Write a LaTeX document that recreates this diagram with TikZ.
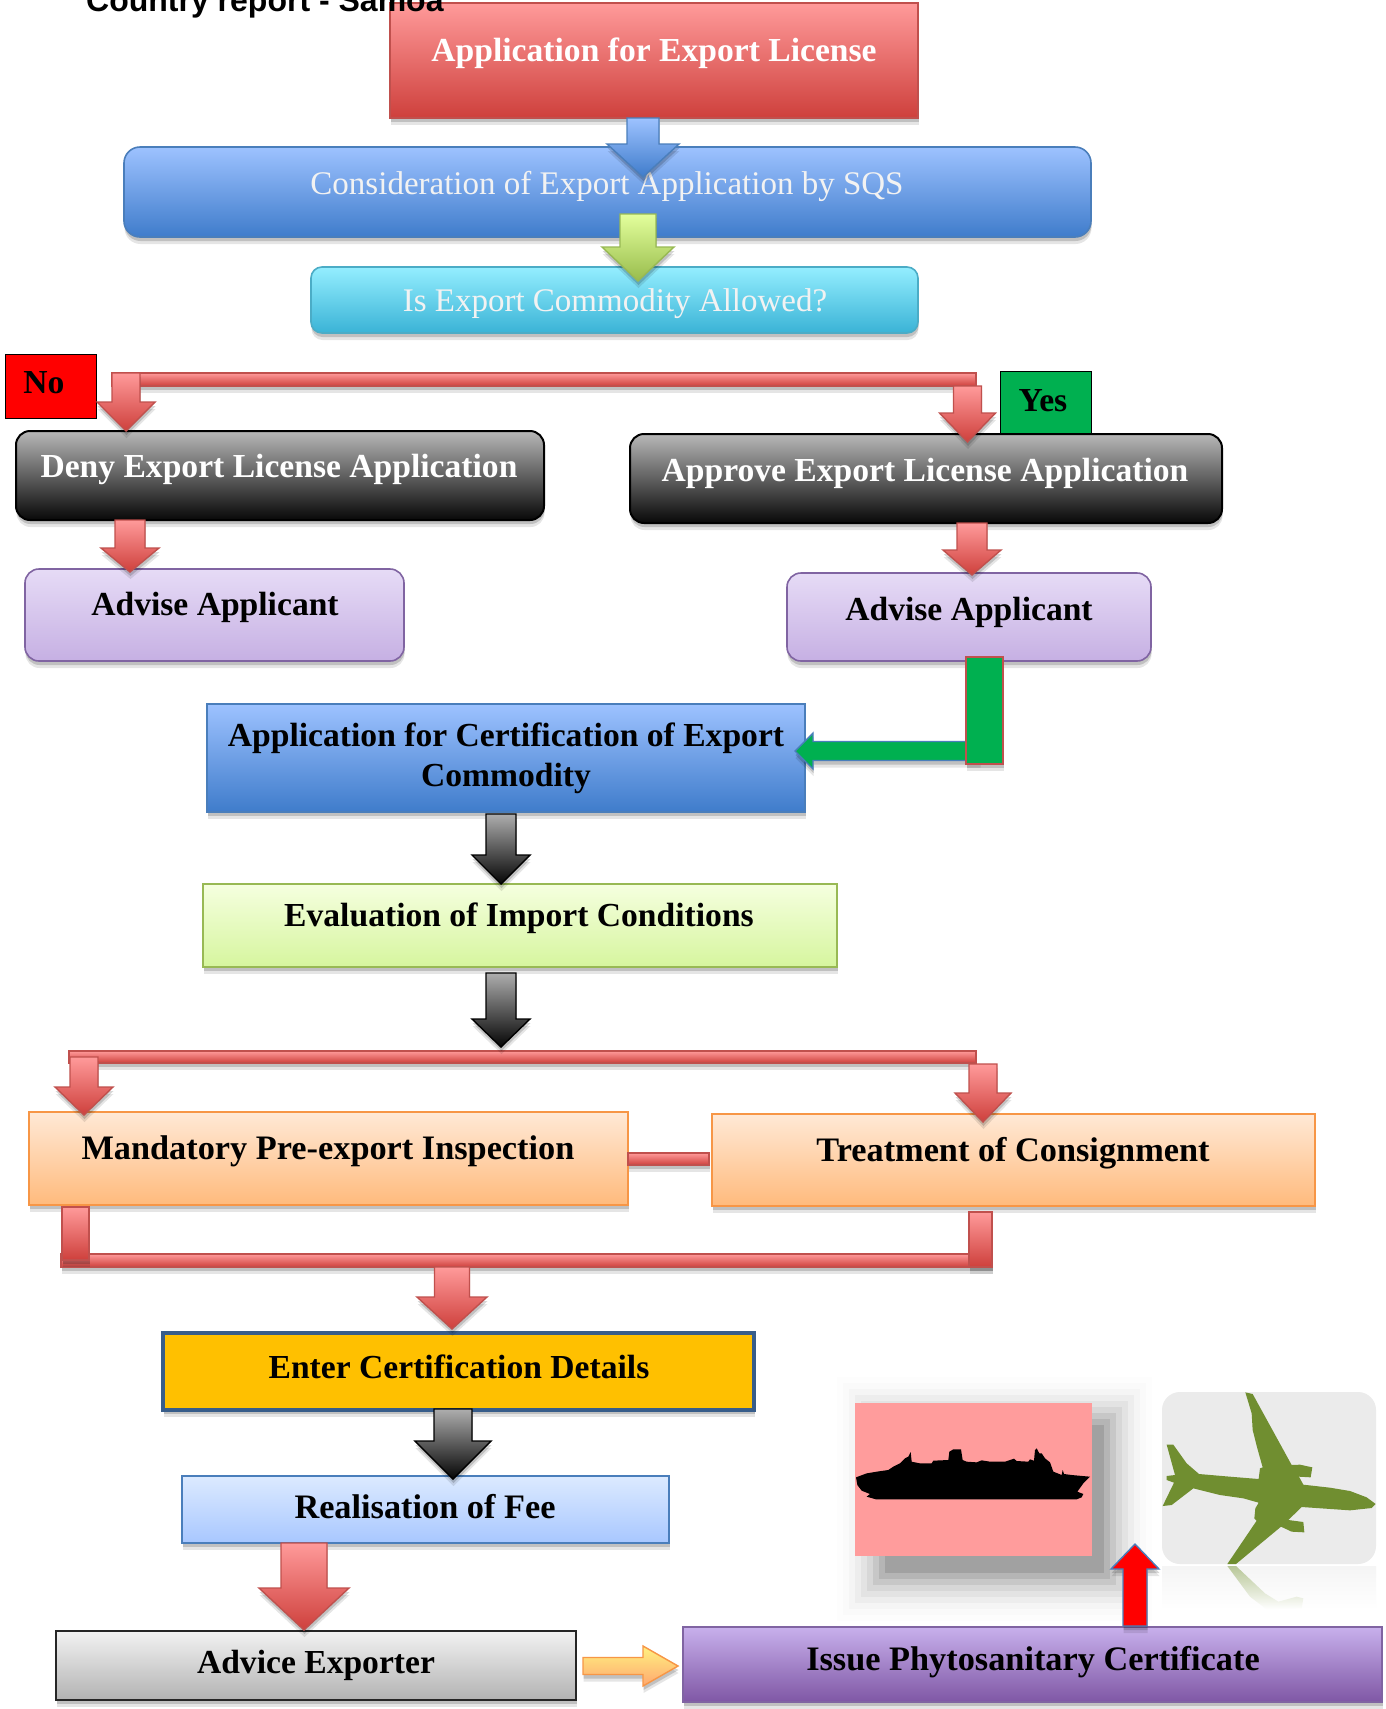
\documentclass[tikz,border=0pt]{standalone}
\usepackage{fontspec}
\setmainfont{Liberation Serif}
\setsansfont{Liberation Sans}
\usetikzlibrary{calc,shadows}
\newcommand\mkbox[6]{%
  \pgfmathsetmacro\bcx{(#3+#5)/2}\pgfmathsetmacro\bcy{(#4+#6)/2}%
  \pgfmathsetmacro\bw{#5-#3}\pgfmathsetmacro\bh{#6-#4}%
  \node[#2,minimum width=\bw pt,minimum height=\bh pt] (#1) at (\bcx,\bcy) {};}
\newcommand\arrdn[9]{%
  \path[#9] let \p1=(#2),\p2=(#4) in
   (#1pt-#6pt,\y1-#3pt)--(#1pt+#6pt,\y1-#3pt)--(#1pt+#6pt,\y2-#5pt+#8pt)--(#1pt+#7pt,\y2-#5pt+#8pt)
   --(#1pt,\y2-#5pt)--(#1pt-#7pt,\y2-#5pt+#8pt)--(#1pt-#6pt,\y2-#5pt+#8pt)--cycle;}
\newcommand\arrlf[9]{%
  \path[#9] let \p1=(#2),\p2=(#4) in
   (\x1+#3pt,-#1pt+#6pt)--(\x1+#3pt,-#1pt-#6pt)--(\x2+#5pt+#8pt,-#1pt-#6pt)--(\x2+#5pt+#8pt,-#1pt-#7pt)
   --(\x2+#5pt,-#1pt)--(\x2+#5pt+#8pt,-#1pt+#7pt)--(\x2+#5pt+#8pt,-#1pt+#6pt)--cycle;}
\newcommand\arrrt[9]{%
  \path[#9] let \p1=(#2),\p2=(#4) in
   (\x1+#3pt,-#1pt+#6pt)--(\x1+#3pt,-#1pt-#6pt)--(\x2+#5pt-#8pt,-#1pt-#6pt)--(\x2+#5pt-#8pt,-#1pt-#7pt)
   --(\x2+#5pt,-#1pt)--(\x2+#5pt-#8pt,-#1pt+#7pt)--(\x2+#5pt-#8pt,-#1pt+#6pt)--cycle;}
\newcommand\arrup[9]{%
  \path[#9] let \p1=(#2),\p2=(#4) in
   (#1pt-#6pt,\y1-#3pt)--(#1pt+#6pt,\y1-#3pt)--(#1pt+#6pt,\y2-#5pt-#8pt)--(#1pt+#7pt,\y2-#5pt-#8pt)
   --(#1pt,\y2-#5pt)--(#1pt-#7pt,\y2-#5pt-#8pt)--(#1pt-#6pt,\y2-#5pt-#8pt)--cycle;}
\definecolor{redT}{HTML}{FF9A9A}\definecolor{redB}{HTML}{CE403C}\definecolor{redL}{HTML}{C0504D}
\definecolor{bluT}{HTML}{9DC2FF}\definecolor{bluB}{HTML}{3F7CCB}\definecolor{bluL}{HTML}{4A7EBB}
\definecolor{cyaT}{HTML}{94EEFF}\definecolor{cyaB}{HTML}{3AB3D6}\definecolor{cyaL}{HTML}{4BACC6}
\definecolor{grnT}{HTML}{E3FF9C}\definecolor{grnB}{HTML}{98BC4C}\definecolor{grnL}{HTML}{98B954}
\definecolor{lavT}{HTML}{E6DBF6}\definecolor{lavB}{HTML}{C6B0E3}\definecolor{lavL}{HTML}{8064A2}
\definecolor{orgT}{HTML}{FFE9D6}\definecolor{orgB}{HTML}{FFBA7C}\definecolor{orgL}{HTML}{F79646}
\definecolor{evlT}{HTML}{F5FFDF}\definecolor{evlB}{HTML}{D6F59E}
\definecolor{relT}{HTML}{DCEAFF}\definecolor{relB}{HTML}{A8C7FF}
\definecolor{purT}{HTML}{C8B0EC}\definecolor{purB}{HTML}{7F57A5}
\definecolor{plane}{HTML}{708E30}
\tikzset{
  softshadow/.style={drop shadow={shadow xshift=.5pt,shadow yshift=-7pt,opacity=.1,fill=black},
                     drop shadow={shadow xshift=.5pt,shadow yshift=-4pt,opacity=.16,fill=black}},
  boxbase/.style={rectangle,inner sep=0pt,outer sep=0pt,line width=1.6pt,softshadow},
  shaded2/.style n args={3}{draw=#3,top color=#1,bottom color=#2},
  redbox/.style={boxbase,shaded2={redT}{redB}{redL}},
  blubox/.style={boxbase,shaded2={bluT}{bluB}{bluL}},
  cyabox/.style={boxbase,shaded2={cyaT}{cyaB}{cyaL},rounded corners=11pt},
  blkbox/.style={boxbase,shaded2={black!28}{black!97}{black},rounded corners=14pt,line width=2pt},
  lavbox/.style={boxbase,shaded2={lavT}{lavB}{lavL},rounded corners=14pt},
  orgbox/.style={boxbase,shaded2={orgT}{orgB}{orgL}},
  evlbox/.style={boxbase,shaded2={evlT}{evlB}{grnL}},
  relbox/.style={boxbase,shaded2={relT}{relB}{bluL}},
  gryb/.style={boxbase,shaded2={black!5}{black!30}{black!85},line width=2pt},
  purbox/.style={boxbase,shaded2={purT}{purB}{lavL}},
  redarr/.style={line width=1.4pt,shaded2={redT}{redB}{redL},softshadow},
  bluarr/.style={line width=1.4pt,shaded2={bluT}{bluB}{bluL},softshadow},
  grnarr/.style={line width=1.4pt,shaded2={grnT}{grnB}{grnL},softshadow},
  gryarr/.style={line width=1.4pt,shaded2={black!32}{black!98}{black},softshadow},
  txt/.style={inner sep=0pt,align=center,font=\fontsize{33.6}{40}\selectfont\bfseries},
  txtb/.style={inner sep=0pt,align=center,font=\fontsize{34.3}{40}\selectfont\bfseries},
  wtxt/.style={txt,text=white},
  ltxt/.style={inner sep=0pt,align=center,text=white!95!black,font=\fontsize{33}{40}\selectfont},
}
\begin{document}
\begin{tikzpicture}[x=1pt,y=-1pt,line join=miter]
\useasboundingbox (0,0) rectangle (1385,1709);
\fill[white] (0,0) rectangle (1385,1709);

% boxes
\mkbox{app}{redbox}{390}{3}{918}{118}
\mkbox{cons}{blubox,rounded corners=16pt}{124}{147}{1091}{237}
\mkbox{allow}{cyabox}{311}{267}{918}{333}
\mkbox{nobox}{rectangle,inner sep=0pt,outer sep=0pt,draw=black,line width=1pt,fill=red}{5}{354}{96}{418}
\mkbox{yesbox}{rectangle,inner sep=0pt,outer sep=0pt,draw=black,line width=1pt,fill={rgb,255:red,0;green,176;blue,80}}{1000}{371}{1091}{433}
\mkbox{deny}{blkbox}{16}{431}{544}{520}
\mkbox{approve}{blkbox}{630}{434}{1222}{523}
\mkbox{advL}{lavbox}{25}{569}{404}{661}
\mkbox{advR}{lavbox}{787}{573}{1151}{661}
\mkbox{appc}{blubox}{207}{704}{805}{812}
\mkbox{eval}{evlbox}{203}{884}{837}{967}
\mkbox{mand}{orgbox}{29}{1112}{628}{1205}
\mkbox{treat}{orgbox}{712}{1114}{1315}{1206}
\mkbox{enter}{boxbase,fill={rgb,255:red,255;green,192;blue,0},draw={rgb,255:red,56;green,93;blue,138},line width=4pt}{163}{1333}{754}{1410}
\mkbox{real}{relbox}{182}{1476}{669}{1543}
\mkbox{adv}{gryb}{56}{1631}{576}{1700}
\mkbox{issue}{purbox}{683}{1627}{1382}{1702}

\node[inner sep=0pt,anchor=base west,font=\sffamily\bfseries\fontsize{32}{34}\selectfont] (title) at (86,11) {Country report - Samoa};

% ship with its blurred shadow
\foreach \d/\o in {48/.008,42/.012,36/.018,30/.03,24/.04,18/.05,12/.07,6/.09,0/.11}{
  \fill[black,opacity=\o] (885-\d,1425-\d) rectangle (1104+\d,1573+\d);
}
\mkbox{ship}{rectangle,inner sep=0pt,outer sep=0pt,fill={rgb,255:red,255;green,156;blue,156}}{855}{1403}{1092}{1556}
\begin{scope}[shift={(850,1430)},scale=.33333]
\fill[black] (18,142)--(50,130)--(80,125)--(115,120)--(130,110)--(150,100)--(165,85)--(175,80)--(182,66)--(185,95)--(210,100)--(245,100)--(250,92)--(295,90)--(298,65)--(310,58)--(333,58)--(338,90)--(350,95)--(380,97)--(395,91)--(420,95)--(465,95)--(492,86)--(500,93)--(535,95)--(540,88)--(552,92)--(555,60)--(560,55)--(568,70)--(575,70)--(585,85)--(600,97)--(610,125)--(635,135)--(638,120)--(642,132)--(665,135)--(720,140)--(700,160)--(682,185)--(700,192)--(695,202)--(680,208)--(78,208)--(50,200)--(60,192)--(35,182)--(22,165)--cycle;
\end{scope}

% aircraft picture and its reflection
\shade[top color=black!4,bottom color=white] (1162,1566) rectangle (1376,1610);
\mkbox{planebg}{rectangle,inner sep=0pt,outer sep=0pt,rounded corners=18pt,fill=black!8}{1162}{1392}{1376}{1564}
\begin{scope}[shift={(1150,1380)},scale=.33333]
\fill[plane] (286,37)--(308,42)--(425,255)--(450,254)--(487,262)--(482,292)--(447,290)--(460,314)--(540,323)--(600,333)--(650,352)--(677,372)--(665,384)--(600,391)--(455,381)--(415,420)--(460,426)--(463,457)--(425,455)--(393,440)--(258,552)--(232,552)--(320,422)--(313,415)--(316,385)--(326,368)--(280,355)--(210,345)--(130,325)--(65,375)--(38,378)--(72,308)--(50,300)--(50,288)--(75,285)--(50,194)--(70,194)--(110,250)--(147,282)--(240,290)--(326,297)--(330,265)--(338,262)--(322,205)--(308,150)--(305,100)--cycle;
\shade[top color=plane!50,bottom color=white] (232,558)--(258,558)--(345,640)--(385,665)--(440,650)--(460,655)--(455,685)--(350,688)--(300,650)--cycle;
\end{scope}

% bars
\mkbox{bar1}{redbox,line width=1.2pt}{112}{373}{976}{386}
\mkbox{bar2}{redbox,line width=1.2pt}{69}{1051}{976}{1063}
\mkbox{conn}{redbox,line width=1.2pt}{628}{1153}{709}{1165}
\mkbox{bar3}{redbox,line width=1.2pt}{61}{1254}{992}{1267}
\mkbox{stubL}{redbox,line width=1.2pt}{62}{1207}{89}{1260}
\mkbox{stubR}{redbox,line width=1.2pt}{969}{1212}{992}{1267}

% texts
\node[wtxt] (appT) at (654,53) {Application for Export License};
\node[ltxt] (consT) at (607,186) {Consideration of Export Application by SQS};
\node[ltxt] (allowT) at (615,304) {Is Export Commodity Allowed?};
\node[txt] (noT) at (44,383) {No};
\node[txt] (yesT) at (1043,401) {Yes};
\node[wtxt] (denyT) at (279,469) {Deny Export License Application};
\node[wtxt] (approveT) at (925,473) {Approve Export License Application};
\node[txt] (advLT) at (215,607) {Advise Applicant};
\node[txt] (advRT) at (969,612) {Advise Applicant};
\node[txt] (appcT) at (506,758) {Application for Certification of Export\\Commodity};
\node[txt] (evalT) at (519,918) {Evaluation of Import Conditions};
\node[txtb] (mandT) at (328,1151) {Mandatory Pre-export Inspection};
\node[txtb] (treatT) at (1013,1153) {Treatment of Consignment};
\node[txt] (enterT) at (459,1367) {Enter Certification Details};
\node[txtb] (realT) at (425,1507) {Realisation of Fee};
\node[txt] (advT) at (316,1665) {Advice Exporter};
\node[txtb] (issueT) at (1033,1662) {Issue Phytosanitary Certificate};

% block arrows
\arrdn{643}{app.south}{0}{cons.north}{30}{16}{36}{33}{bluarr}
\arrdn{638}{cons.south}{-23}{allow.north}{14}{18}{36}{34}{grnarr}
\arrdn{126}{bar1.north}{0}{deny.north}{0}{14}{29}{29}{redarr}
\arrdn{967.5}{bar1.south}{0}{approve.north}{8}{14}{28}{29}{redarr}
\arrdn{130}{deny.south}{0}{advL.north}{3}{15}{29}{24}{redarr}
\arrdn{972}{approve.south}{0}{advR.north}{2}{15}{29}{25}{redarr}
\arrdn{501}{appc.south}{2}{eval.north}{0}{15}{29}{29}{gryarr}
\arrdn{501}{eval.south}{6}{bar2.north}{-4}{15}{29}{28}{gryarr}
\arrdn{84}{bar2.north}{6}{mand.north}{3}{14}{29}{28}{redarr}
\arrdn{983}{bar2.south}{1}{treat.north}{8}{14}{28}{29}{redarr}
\arrdn{452}{bar3.south}{0}{enter.north}{-4}{17.5}{35}{32}{redarr}
\arrdn{453}{enter.south}{-1}{real.north}{3}{19}{38}{38}{gryarr}
\arrdn{304}{real.south}{0}{adv.north}{-1}{23}{45}{42}{redarr}
% green elbow
\arrlf{751}{appc.east}{175}{appc.east}{-10}{9.5}{18}{18}{line width=1.4pt,draw=bluL,fill={rgb,255:red,0;green,176;blue,80},softshadow}
\mkbox{elbow}{boxbase,draw=redL,fill={rgb,255:red,0;green,176;blue,80}}{966}{657}{1003}{764}
% gold and red arrows
\arrrt{1666}{adv.east}{7}{issue.west}{-5}{8.5}{20}{35}{line width=1.4pt,draw=orgL,top color=orgT!60!yellow,bottom color=orgB!90!red,softshadow}
\coordinate (uptip) at (1135,1544);
\arrup{1135}{issue.north}{-1}{uptip}{0}{12}{24}{25}{line width=1.4pt,draw=bluL,fill=red,softshadow}
\end{tikzpicture}
\end{document}
